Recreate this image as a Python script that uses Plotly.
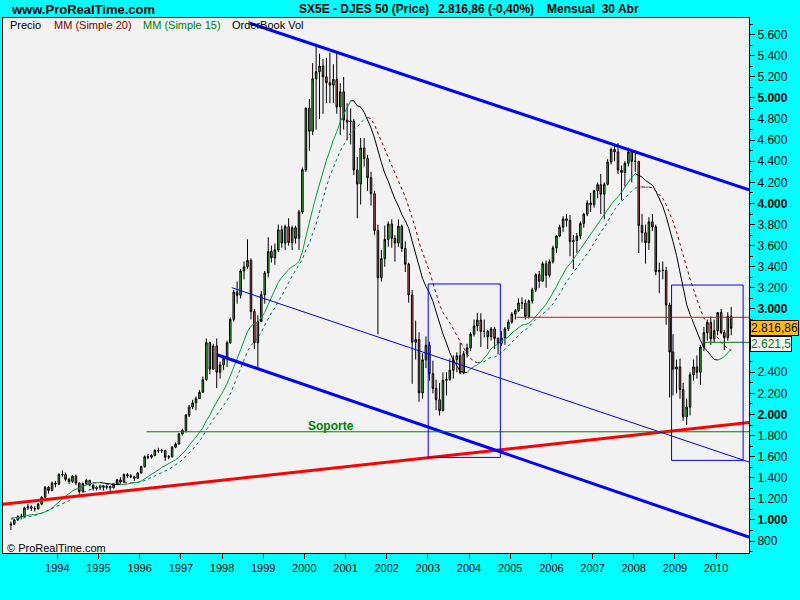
import numpy as np
import pandas as pd
import plotly.graph_objects as go

# ---------------- DATA ----------------
# closes before the first visible candle (Jan 1991 - Sep 1992), only used by the moving averages
hist_close = [870, 950, 980, 975, 990, 960, 985, 990, 980, 960, 950, 1000,
              1050, 1090, 1060, 1100, 1130, 1080, 1010, 960, 950]

first_month = "1992-10-15"

close = [
    960, 1000, 1034,
    1030, 1115, 1125, 1110, 1105, 1150, 1215, 1310, 1280, 1350, 1340, 1433,
    1430, 1385, 1365, 1415, 1350, 1270, 1345, 1375, 1330, 1300, 1305, 1321,
    1310, 1318, 1305, 1340, 1380, 1360, 1430, 1420, 1410, 1395, 1445, 1507,
    1600, 1595, 1610, 1660, 1655, 1660, 1595, 1600, 1690, 1720, 1815, 1850,
    1995, 2070, 2110, 2150, 2210, 2330, 2680, 2430, 2650, 2400, 2470, 2532,
    2680, 2900, 3160, 3130, 3360, 3400, 3460, 2975, 2680, 2880, 3135, 3342,
    3545, 3485, 3560, 3750, 3625, 3780, 3630, 3770, 3670, 3920, 4320, 4904,
    4685, 5182, 5249, 5303, 5200, 5145, 5122, 5175, 4915, 5058, 4790, 4772,
    4780, 4318, 4185, 4526, 4426, 4243, 4092, 3744, 3297, 3478, 3658, 3806,
    3670, 3625, 3784, 3574, 3425, 3133, 2685, 2710, 2204, 2518, 2656, 2386,
    2248, 2140, 2036, 2324, 2330, 2419, 2519, 2557, 2395, 2575, 2631, 2761,
    2839, 2894, 2787, 2788, 2737, 2811, 2721, 2671, 2726, 2811, 2876, 2951,
    2984, 3058, 3056, 2930, 3076, 3182, 3326, 3263, 3429, 3320, 3447, 3579,
    3692, 3775, 3854, 3839, 3637, 3649, 3692, 3809, 3899, 4005, 3987, 4120,
    4178, 4088, 4182, 4393, 4512, 4489, 4316, 4294, 4381, 4490, 4399, 4400,
    3792, 3724, 3628, 3826, 3778, 3353, 3367, 3365, 3038, 2592, 2430, 2451,
    2237, 1977, 2071, 2376, 2451, 2401, 2639, 2775, 2873, 2718, 2794, 2966,
    2776, 2728, 2931, 2817,
]
high = [
    985, 1010, 1045,
    1060, 1125, 1150, 1140, 1130, 1160, 1225, 1320, 1320, 1365, 1370, 1440,
    1470, 1450, 1400, 1425, 1430, 1355, 1355, 1390, 1380, 1340, 1325, 1335,
    1330, 1330, 1325, 1350, 1390, 1405, 1440, 1445, 1435, 1420, 1455, 1515,
    1612, 1625, 1625, 1670, 1685, 1675, 1665, 1615, 1700, 1735, 1825, 1865,
    2005, 2090, 2140, 2170, 2230, 2360, 2720, 2690, 2670, 2720, 2500, 2560,
    2700, 2920, 3180, 3260, 3380, 3450, 3660, 3480, 3000, 2940, 3170, 3360,
    3680, 3600, 3620, 3800, 3790, 3800, 3860, 3790, 3790, 3940, 4340, 4910,
    4990, 5330, 5515, 5420, 5370, 5380, 5430, 5320, 5420, 5140, 5200, 4950,
    4900, 4800, 4440, 4620, 4620, 4460, 4300, 4120, 3800, 3560, 3790, 3830,
    3850, 3700, 3850, 3800, 3640, 3440, 3180, 2890, 2780, 2580, 2740, 2690,
    2510, 2330, 2300, 2400, 2400, 2530, 2560, 2590, 2680, 2600, 2670, 2780,
    2900, 2960, 2960, 2900, 2800, 2830, 2830, 2730, 2790, 2830, 2900, 2970,
    3000, 3100, 3110, 3090, 3090, 3200, 3340, 3360, 3450, 3460, 3470, 3600,
    3700, 3800, 3880, 3900, 3890, 3700, 3720, 3830, 3910, 4030, 4100, 4130,
    4200, 4280, 4200, 4420, 4530, 4560, 4572, 4360, 4400, 4530, 4500, 4500,
    4400, 3900, 3800, 3870, 3900, 3800, 3440, 3450, 3400, 3060, 2760, 2520,
    2530, 2300, 2150, 2400, 2520, 2560, 2660, 2830, 2900, 2930, 2900, 2970,
    3000, 2800, 2970, 3020,
]
low = [
    905, 955, 995,
    1005, 1025, 1095, 1085, 1080, 1100, 1140, 1205, 1250, 1270, 1310, 1330,
    1410, 1370, 1340, 1350, 1330, 1250, 1260, 1330, 1320, 1280, 1280, 1285,
    1280, 1290, 1270, 1300, 1335, 1345, 1350, 1400, 1395, 1370, 1390, 1440,
    1495, 1575, 1580, 1605, 1635, 1635, 1560, 1575, 1590, 1680, 1715, 1800,
    1830, 1975, 2050, 2040, 2150, 2210, 2320, 2380, 2420, 2250, 2340, 2420,
    2450, 2670, 2880, 3050, 3100, 3280, 3380, 2900, 2620, 2440, 2900, 3050,
    3300, 3440, 3420, 3540, 3580, 3560, 3600, 3560, 3620, 3560, 3900, 4300,
    4500, 4650, 4700, 4800, 4850, 4950, 4950, 4950, 4850, 4650, 4700, 4600,
    4560, 4270, 3860, 3990, 4350, 4120, 3980, 3700, 2760, 3260, 3400, 3590,
    3580, 3450, 3590, 3540, 3350, 3060, 2290, 2520, 2120, 2150, 2440, 2320,
    2200, 2040, 1990, 2030, 2180, 2320, 2340, 2400, 2380, 2380, 2540, 2600,
    2740, 2790, 2640, 2730, 2620, 2700, 2620, 2570, 2650, 2660, 2790, 2860,
    2900, 2970, 3000, 2900, 2910, 3050, 3160, 3200, 3260, 3200, 3300, 3430,
    3530, 3680, 3730, 3780, 3500, 3380, 3530, 3660, 3770, 3880, 3920, 3960,
    4050, 3900, 3850, 4170, 4370, 4400, 4280, 4030, 4160, 4350, 4200, 4300,
    3530, 3630, 3430, 3560, 3740, 3320, 3150, 3280, 2850, 2160, 2180, 2200,
    2150, 1940, 1900, 1990, 2320, 2340, 2280, 2600, 2700, 2660, 2680, 2750,
    2760, 2610, 2700, 2750,
]

# y-axis tick values / labels (2.800 and 2.600 are hidden behind the value boxes)
price_ticks = list(range(800, 5601, 200))
hidden_ticks = [2600, 2800]
year_ticks = list(range(1994, 2011))

# drawn objects (data units: date, price)
upper_channel = [("1998-09-05", 5709), ("2010-10-20", 4129)]
lower_channel = [("1997-11-24", 2564), ("2010-10-20", 837)]
mid_channel = [("1998-03-29", 3202), ("2010-10-20", 1549)]
red_trend = [("1992-09-06", 1149), ("2010-10-20", 1924)]
support_line = [("1996-03-02", 1836), ("2010-10-20", 1836)]
red_level = [("2005-02-27", 2921), ("2010-10-20", 2921)]
green_level = [("2009-09-23", 2684), ("2010-10-20", 2684)]
box1 = [("2003-01-04", 1593), ("2004-10-05", 3237)]
box2 = [("2008-12-02", 1565), ("2010-08-29", 3227)]
last_price = 2816.86
last_ma15 = 2621.5

# ---------------- BUILD ----------------
dates = pd.date_range(first_month, periods=len(close), freq="MS") + pd.Timedelta(days=14)
xd = [d.strftime("%Y-%m-%d") for d in dates]
opn = [hist_close[-1]] + close[:-1]

allc = np.array(hist_close + close, dtype=float)
nh = len(hist_close)


def sma(a, n):
    out = np.full(len(a), np.nan)
    cs = np.cumsum(np.insert(a, 0, 0.0))
    out[n - 1:] = (cs[n:] - cs[:-n]) / n
    return out


ma15 = sma(allc, 15)[nh:]
ma20 = sma(allc, 20)[nh:]


def split_dir(x, v):
    ux, uy, dx, dy = [], [], [], []
    prev = None
    for i in range(1, len(v)):
        if np.isnan(v[i - 1]) or np.isnan(v[i]):
            continue
        d = v[i] >= v[i - 1]
        tx, ty = (ux, uy) if d else (dx, dy)
        if prev is not d:
            tx.extend([None, x[i - 1]])
            ty.extend([None, v[i - 1]])
        tx.append(x[i])
        ty.append(v[i])
        prev = d
    return ux, uy, dx, dy


fig = go.Figure()

fig.add_trace(go.Candlestick(
    x=xd, open=opn, high=high, low=low, close=close,
    increasing=dict(fillcolor="#3CC83C", line=dict(color="#000000", width=1)),
    decreasing=dict(fillcolor="#DC6464", line=dict(color="#000000", width=1)),
    whiskerwidth=0, hoverinfo="skip", showlegend=False,
))

u15x, u15y, d15x, d15y = split_dir(xd, ma15)
u20x, u20y, d20x, d20y = split_dir(xd, ma20)
fig.add_trace(go.Scatter(x=u20x, y=u20y, mode="lines", line=dict(color="#007070", width=1, dash="dot"), showlegend=False, hoverinfo="skip"))
fig.add_trace(go.Scatter(x=d20x, y=d20y, mode="lines", line=dict(color="#800000", width=1, dash="dot"), showlegend=False, hoverinfo="skip"))
fig.add_trace(go.Scatter(x=u15x, y=u15y, mode="lines", line=dict(color="#00A040", width=1), showlegend=False, hoverinfo="skip"))
fig.add_trace(go.Scatter(x=d15x, y=d15y, mode="lines", line=dict(color="#000000", width=1), showlegend=False, hoverinfo="skip"))

shapes = []


def seg(p, color, width):
    shapes.append(dict(type="line", xref="x", yref="y", x0=p[0][0], y0=p[0][1], x1=p[1][0], y1=p[1][1],
                       line=dict(color=color, width=width), layer="above"))


seg(red_trend, "#FF0000", 3)
seg(upper_channel, "#0000FF", 3)
seg(lower_channel, "#0000FF", 3)
seg(mid_channel, "#0000FF", 1)
seg(support_line, "#008000", 1)
seg(red_level, "#FF0000", 1)
seg(green_level, "#008000", 1)
for b in (box1, box2):
    shapes.append(dict(type="rect", xref="x", yref="y", x0=b[0][0], y0=b[0][1], x1=b[1][0], y1=b[1][1],
                       line=dict(color="#0000FF", width=1), fillcolor="rgba(0,0,0,0)", layer="above"))

W, H = 800, 600
L, R, T, B = 3, 51, 18, 47
pw, ph = W - L - R, H - T - B


def px(x):
    return (x - L) / pw


def py(y):
    return (H - B - y) / ph


FONT = "Liberation Sans, Arial, sans-serif"
ann = []


def text(x, y, s, size=11, color="#000000", bold=False, xanchor="left"):
    ann.append(dict(xref="paper", yref="paper", x=px(x), y=py(y), text=("<b>%s</b>" % s) if bold else s,
                    showarrow=False, xanchor=xanchor, yanchor="middle",
                    font=dict(family=FONT, size=size, color=color)))


def euro(v, nd):
    return f"{v:,.{nd}f}".replace(",", "X").replace(".", ",").replace("X", ".")


text(9, 9, "www.ProRealTime.com", 13, bold=True)
text(297, 9, "SX5E - DJES 50 (Price)", 12, bold=True)
text(436, 9, "2.816,86 (-0,40%)", 12, bold=True)
text(545, 9, "Mensual  30 Abr", 12, bold=True)
text(8, 25, "Precio", 11)
text(52, 25, "MM (Simple 20)", 11, "#800000")
text(141, 25, "MM (Simple 15)", 11, "#008000")
text(230, 25, "OrderBook Vol", 11)
text(5, 548, "© ProRealTime.com", 11)
ann.append(dict(xref="x", yref="y", x="2000-08-25", y=1890, text="<b>Soporte</b>", showarrow=False,
                xanchor="center", yanchor="middle", font=dict(family=FONT, size=12, color="#008000")))
ann.append(dict(xref="paper", yref="y", x=px(750), y=last_price, text=euro(last_price, 2),
                showarrow=False, xanchor="left", yanchor="middle", bgcolor="#FFB90F", bordercolor="#000000",
                borderwidth=1, borderpad=0, font=dict(family=FONT, size=12, color="#000000")))
ann.append(dict(xref="paper", yref="y", x=px(750), y=2668, text=euro(last_ma15, 1),
                showarrow=False, xanchor="left", yanchor="middle", bgcolor="#F4F4F4", bordercolor="#000000",
                borderwidth=1, borderpad=0, font=dict(family=FONT, size=12, color="#008000")))


def fmt(v):
    if v in hidden_ticks:
        return ""
    s = f"{v:,}".replace(",", ".")
    return f"<b>{s}</b>" if v % 1000 == 0 else s


fig.update_layout(
    width=W, height=H, margin=dict(l=L, r=R, t=T, b=B),
    paper_bgcolor="#00FFFF", plot_bgcolor="#F2F2F2",
    shapes=shapes, annotations=ann, showlegend=False,
    font=dict(family=FONT, size=11, color="#000000"),
    xaxis=dict(type="date", range=["1992-09-06", "2010-10-20"], rangeslider=dict(visible=False),
               tickvals=[f"{y}-01-01" for y in year_ticks], ticktext=[str(y) for y in year_ticks],
               ticks="outside", ticklen=5, tickcolor="#000000", showgrid=False, zeroline=False,
               showline=True, linecolor="#000000", linewidth=1, mirror=True,
               tickfont=dict(family=FONT, size=11, color="#000000")),
    yaxis=dict(side="right", range=[687, 5758], tickvals=price_ticks, ticktext=[fmt(v) for v in price_ticks],
               ticks="outside", ticklen=5, tickcolor="#000000", showgrid=False, zeroline=False,
               showline=True, linecolor="#000000", linewidth=1, mirror=True,
               minor=dict(dtick=100, tick0=0, ticks="outside", ticklen=3, tickcolor="#000000", showgrid=False),
               tickfont=dict(family=FONT, size=12, color="#000000")),
)

fig.write_html("out.html", config={"displayModeBar": False},
               post_script="document.body.style.margin='0';document.body.style.padding='0';document.body.style.overflow='hidden';")
